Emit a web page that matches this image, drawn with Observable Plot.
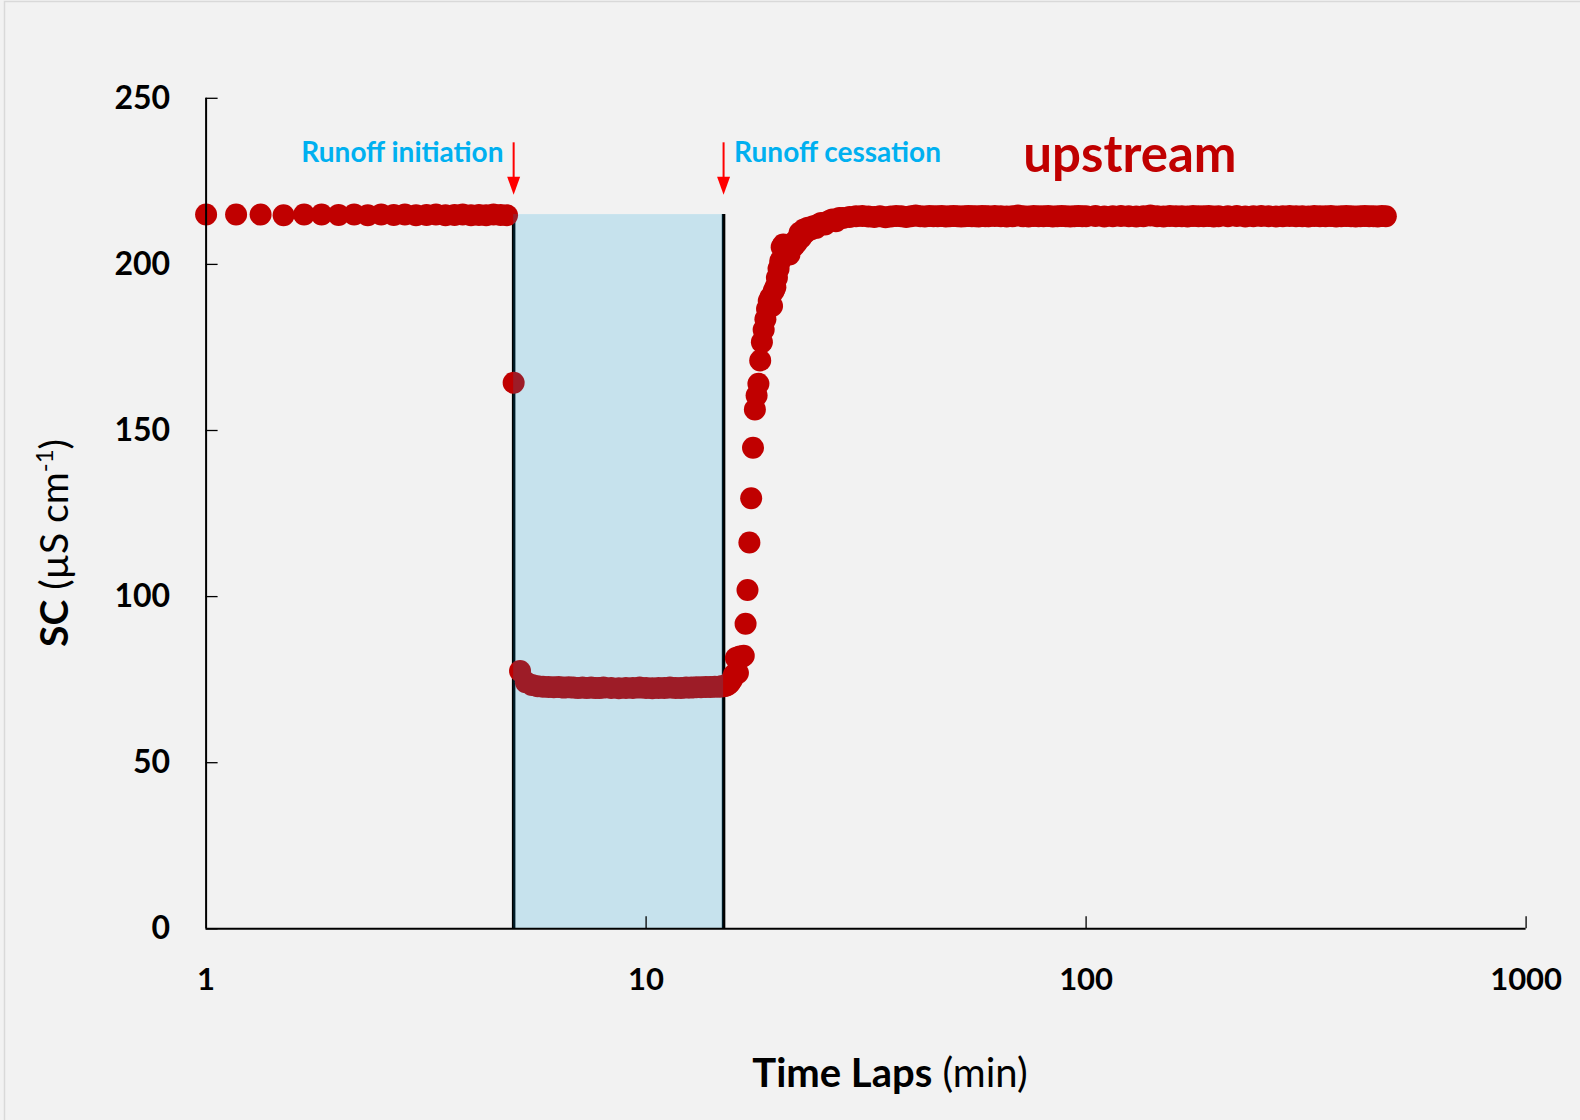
<!DOCTYPE html>
<html>
<head>
<meta charset="utf-8">
<script src="https://cdn.jsdelivr.net/npm/d3@7"></script>
<script src="https://cdn.jsdelivr.net/npm/@observablehq/plot@0.6"></script>
<style>
html, body { margin: 0; padding: 0; background: #f2f2f2; }
#chart { width: 1580px; height: 1120px; }
</style>
</head>
<body>
<div id="chart"></div>
<script>
// ---------- data (time in minutes, SC in µS/cm) ----------
const beforeTime = [1,1.17,1.33,1.5,1.67,1.83,2,2.17,2.33,2.5,2.67,2.83,3,3.17,3.33,3.5,3.67,3.83,4,4.17,4.33,4.5,4.67,4.83];
const beforeSC   = [215,215,215,214.8,215,215,214.9,215,214.8,215,214.9,215,214.8,214.9,215,214.8,214.9,215,214.8,214.9,214.8,215,214.9,214.8];

const dropTime = [5.0, 5.17];
const dropSC   = [164.4, 77.6];

const runoffTime = [5.33,5.5,5.67,5.83,6,6.17,6.33,6.5,6.67,6.83,7,7.17,7.33,7.5,7.67,7.83,8,8.33,8.67,9,9.33,9.67,10,10.33,10.67,11,11.33,11.67,12,12.33,12.67,13,13.33,13.67,14,14.33,14.67,14.83];
const runoffSC   = [74.2,73.4,73.0,72.9,72.8,72.7,72.8,72.6,72.7,72.6,72.5,72.6,72.5,72.6,72.5,72.5,72.6,72.5,72.4,72.5,72.5,72.6,72.5,72.4,72.5,72.5,72.6,72.5,72.5,72.6,72.6,72.7,72.7,72.8,72.8,72.9,72.9,73.0];

const recoveryTime = [15,15.17,15.33,15.5,15.67,15.83,16,16.17,16.33,16.5,16.67,16.83,17,17.17,17.33,17.5,17.67,17.83,18,18.17,18.33,18.5,18.67,18.83,19,19.17,19.33,19.5,19.67,19.83,20,20.17,20.33,20.5,20.67,20.83,21,21.17,21.33,21.5,21.67,21.83,22,22.17,22.33,22.5,22.67,22.83,23,23.33,23.67,24,24.33,24.67,25,25.5,26,26.5,27,27.5,28,29];
const recoverySC   = [73.0,73.2,73.5,74.0,75.0,76.5,81.5,77.0,82.0,81.8,82.2,91.8,102.0,116.3,129.6,144.8,156.3,160.5,164.1,171.1,176.6,180.3,183.5,186.6,189.0,190.1,187.5,192.0,193.1,196.0,198.7,201.0,205.2,206.0,204.0,203.5,204.5,203.0,205.0,206.0,205.5,207.0,206.5,208.0,209.5,208.0,209.0,210.5,209.5,211.0,210.5,211.5,211.0,212.0,212.5,212.0,213.0,213.5,213.0,214.0,214.0,214.3];

const afterTime = [
  30,31,32,33,34,35,36,37,38,39,40,41,42,43,44,45,46,47,48,49,50,51,52,53,54,55,56,57,58,59,60,
  62,64,66,68,70,72,74,76,78,80,82,84,86,88,90,92,94,96,98,100,
  105,110,115,120,125,130,135,140,145,150,155,160,165,170,175,180,185,190,195,200,
  210,220,230,240,250,260,270,280,290,300,310,320,330,340,350,360,370,380,390,400,410,420,430,440,450,460,470,480
];
const afterSC = [
  214.5,214.6,214.4,214.3,214.5,214.2,214.4,214.6,214.5,214.3,214.5,214.7,214.5,214.4,214.6,214.5,214.5,214.6,214.4,214.5,214.6,214.5,214.4,214.5,214.6,214.5,214.5,214.4,214.6,214.5,214.5,
  214.6,214.5,214.4,214.5,214.7,214.5,214.4,214.6,214.5,214.5,214.6,214.4,214.5,214.6,214.5,214.4,214.5,214.6,214.5,214.5,
  214.6,214.4,214.5,214.6,214.5,214.4,214.5,214.7,214.5,214.4,214.6,214.5,214.5,214.4,214.6,214.5,214.5,214.6,214.4,214.5,
  214.5,214.6,214.4,214.5,214.6,214.5,214.4,214.5,214.6,214.5,214.5,214.4,214.6,214.5,214.5,214.6,214.4,214.5,214.6,214.5,214.4,214.5,214.6,214.5,214.5,214.4,214.6,214.5
];

const runoffStart = 5;     // min
const runoffEnd = 15;      // min
const runoffTop = 215;     // µS/cm, top of shaded window

const xTicks = [1, 10, 100, 1000];
const yTicks = [0, 50, 100, 150, 200, 250];

const notes = [
  {label: "Runoff initiation", t: 4.74, v: 233.4},
  {label: "Runoff cessation",  t: 15.85, v: 233.4}
];
const seriesLabel = {label: "upstream", t: 72.0, v: 232.6};

// ---------- build table ----------
const rows = [];
function addSeg(ts, vs) { ts.forEach((t, i) => { if (vs[i] != null) rows.push({t, sc: vs[i]}); }); }
addSeg(beforeTime, beforeSC);
addSeg(dropTime, dropSC);
addSeg(runoffTime, runoffSC);
addSeg(recoveryTime, recoverySC);
addSeg(afterTime, afterSC);

const arrowHead = {
  draw(ctx) { ctx.moveTo(0, 0); ctx.lineTo(-6.5, -18); ctx.lineTo(6.5, -18); ctx.closePath(); }
};

const font = "Lato, 'Open Sans', sans-serif";

const svg = Plot.plot({
  width: 1580,
  height: 1120,
  marginLeft: 205.6,
  marginRight: 54.4,
  marginTop: 97.8,
  marginBottom: 191.7,
  style: {background: "#f2f2f2", fontFamily: font, overflow: "visible"},
  x: {type: "log", domain: [1, 1000]},
  y: {domain: [0, 250]},
  marks: [
    // window boundaries
    Plot.ruleX([runoffStart, runoffEnd], {y1: 0, y2: runoffTop, stroke: "#000", strokeWidth: 3.5}),
    // data
    Plot.dot(rows, {x: "t", y: "sc", r: 11, fill: "#c00000", stroke: null}),
    // shaded runoff window (translucent overlay)
    Plot.rect([{a: runoffStart, b: runoffEnd}], {x1: "a", x2: "b", y1: 0, y2: runoffTop, fill: "rgb(0,153,214)", fillOpacity: 0.18}),
    // axis lines
    Plot.ruleY([0], {x1: 1, x2: 1000, stroke: "#000", strokeWidth: 2}),
    Plot.ruleX([1], {y1: 0, y2: 250, stroke: "#000", strokeWidth: 2}),
    // inside ticks
    Plot.axisY({ticks: yTicks, tickSize: 12, dx: 12, tickFormat: () => "", label: null, stroke: "#000", strokeWidth: 1.3}),
    Plot.axisX({ticks: [10, 100, 1000], tickSize: 12, dy: -12, tickFormat: () => "", label: null, stroke: "#000", strokeWidth: 1.3}),
    // tick labels
    Plot.axisY({ticks: yTicks, tickSize: 0, tickPadding: 36, label: null, fontSize: 32, fontWeight: "bold", fill: "#000"}),
    Plot.axisX({ticks: xTicks, tickSize: 0, tickPadding: 39, label: null, tickFormat: d => String(d), fontSize: 31, fontWeight: "bold", fill: "#000"}),
    // arrows
    Plot.ruleX([runoffStart, runoffEnd], {y1: 236.6, y2: 224, stroke: "#ff0000", strokeWidth: 2}),
    Plot.dot([runoffStart, runoffEnd], {x: d => d, y: 221, symbol: arrowHead, fill: "#ff0000", stroke: null}),
    // annotations
    Plot.text([notes[0]], {x: "t", y: "v", text: "label", textAnchor: "end", fill: "#00b0f0", fontSize: 28, fontWeight: "bold"}),
    Plot.text([notes[1]], {x: "t", y: "v", text: "label", textAnchor: "start", fill: "#00b0f0", fontSize: 28, fontWeight: "bold"}),
    Plot.text([seriesLabel], {x: "t", y: "v", text: "label", textAnchor: "start", fill: "#c00000", fontSize: 51, fontWeight: "bold"})
  ]
});

document.getElementById("chart").appendChild(svg);

const s = d3.select(svg);
s.append("rect").attr("x", 4.5).attr("y", 1.5).attr("width", 1600).attr("height", 1200)
  .attr("fill", "none").attr("stroke", "#d9d9d9").attr("stroke-width", 1.5);

const xt = s.append("text").attr("x", 890).attr("y", 1087).attr("text-anchor", "middle")
  .attr("font-family", font).attr("font-size", 40).attr("fill", "#000");
xt.append("tspan").attr("font-weight", "bold").text("Time Laps");
xt.append("tspan").text(" (min)");

const yt = s.append("text").attr("transform", "translate(68,543) rotate(-90)").attr("text-anchor", "middle")
  .attr("font-family", font).attr("font-size", 39).attr("fill", "#000");
yt.append("tspan").attr("font-weight", "bold").text("SC");
yt.append("tspan").text(" (µS cm");
yt.append("tspan").attr("dy", -15).attr("font-size", 24).text("-1");
yt.append("tspan").attr("dy", 15).text(")");
</script>
</body>
</html>
